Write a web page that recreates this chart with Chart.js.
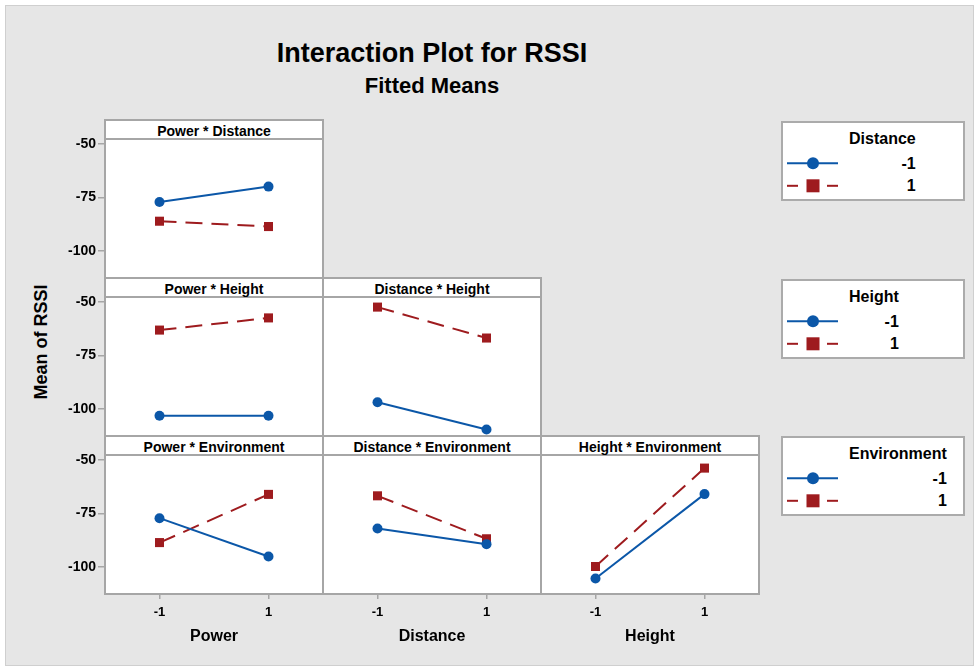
<!DOCTYPE html>
<html>
<head>
<meta charset="utf-8">
<title>Interaction Plot for RSSI</title>
<script src="https://cdn.jsdelivr.net/npm/chart.js@4.4.1/dist/chart.umd.min.js"></script>
<style>
  html, body { margin: 0; padding: 0; background: #fff; }
  #page { position: relative; width: 975px; height: 667px; overflow: hidden;
          font-family: "Liberation Sans", Arial, sans-serif; font-weight: bold; color: #000; }
  #bg { position: absolute; left: 5px; top: 5px; width: 967px; height: 659px;
        background: #e6e6e6; border: 1px solid #cfcfcf; }
  .frame { position: absolute; box-sizing: border-box; background: #fff; border: 2px solid #a6a6a6; }
  .strip { position: absolute; box-sizing: border-box; background: #fff; border: 2px solid #a6a6a6;
           font-size: 14px; line-height: 17px; padding-top: 2px; text-align: center; white-space: nowrap; }
  .legend { position: absolute; box-sizing: border-box; background: #fff; border: 2px solid #ababab; }
  .ltext { position: absolute; font-size: 16px; line-height: 18px; white-space: nowrap; }
  .ltext div.v { text-align: right; }
  canvas { position: absolute; }
  .title { position: absolute; left: 0; width: 864px; text-align: center; white-space: nowrap; }
</style>
</head>
<body>
<div id="page">
  <div id="bg"></div>
  <div class="title" style="top:40px;font-size:27px;line-height:27px;">Interaction Plot for RSSI</div>
  <div class="title" style="top:75px;font-size:22px;line-height:22px;">Fitted Means</div>
  <div style="position:absolute;left:41px;top:342px;transform:translate(-50%,-50%) rotate(-90deg);font-size:18px;line-height:18px;white-space:nowrap;">Mean of RSSI</div>
</div>
<script>
// Factor levels and names
const levels = [-1, 1];
const xFactors = ['Power', 'Distance', 'Height'];
const traceFactors = ['Distance', 'Height', 'Environment'];
const yTicks = [-100, -75, -50];

// Fitted means of RSSI, indexed by the x-factor level (-1, 1);
// "Low" = trace factor at -1, "High" = trace factor at 1
const powerByDistanceLow     = [-77.2, -70.0];
const powerByDistanceHigh    = [-86.2, -88.7];
const powerByHeightLow       = [-103.3, -103.3];
const powerByHeightHigh      = [-63.2, -57.5];
const distanceByHeightLow    = [-96.9, -109.6];
const distanceByHeightHigh   = [-52.6, -67.0];
const powerByEnvLow          = [-77.2, -95.1];
const powerByEnvHigh         = [-88.6, -66.1];
const distanceByEnvLow       = [-82.1, -89.4];
const distanceByEnvHigh      = [-66.9, -86.9];
const heightByEnvLow         = [-105.4, -66.1];
const heightByEnvHigh        = [-99.8, -54.0];

const BLUE = '#0b57a8';
const RED = '#9e1b1e';
const GRAY = '#a6a6a6';
const FONT = '"Liberation Sans", Arial, sans-serif';

// Panel matrix: row = trace factor, column = x factor
const panels = [
  { row: 0, col: 0, title: 'Power * Distance',       low: powerByDistanceLow,  high: powerByDistanceHigh },
  { row: 1, col: 0, title: 'Power * Height',         low: powerByHeightLow,    high: powerByHeightHigh },
  { row: 1, col: 1, title: 'Distance * Height',      low: distanceByHeightLow, high: distanceByHeightHigh },
  { row: 2, col: 0, title: 'Power * Environment',    low: powerByEnvLow,       high: powerByEnvHigh },
  { row: 2, col: 1, title: 'Distance * Environment', low: distanceByEnvLow,    high: distanceByEnvHigh },
  { row: 2, col: 2, title: 'Height * Environment',   low: heightByEnvLow,      high: heightByEnvHigh }
];

// Grid geometry (border centre lines)
const colX = [105, 323, 541, 759];
const stripTop = [120, 278, 436];
const plotTop = [139, 297, 455];
const plotBottom = [278, 436, 594];
const Y_MIN = -112.6, Y_MAX = -47.9;

const page = document.getElementById('page');

function addDiv(cls, style, text) {
  const d = document.createElement('div');
  d.className = cls;
  Object.assign(d.style, style);
  if (text !== undefined) d.textContent = text;
  page.appendChild(d);
  return d;
}

function seriesPoints(vals) {
  return levels.map((x, i) => ({ x: x, y: vals[i] }));
}

panels.forEach(p => {
  const x0 = colX[p.col], x1 = colX[p.col + 1];
  const t = plotTop[p.row], b = plotBottom[p.row], st = stripTop[p.row];
  addDiv('frame', { left: (x0 - 1) + 'px', top: (t - 1) + 'px', width: (x1 - x0 + 2) + 'px', height: (b - t + 2) + 'px' });
  addDiv('strip', { left: (x0 - 1) + 'px', top: (st - 1) + 'px', width: (x1 - x0 + 2) + 'px', height: (t - st + 2) + 'px' }, p.title);
});

panels.forEach(p => {
  const showY = p.col === 0;
  const showX = p.row === 2;
  const padL = showY ? 60 : 10;
  const padB = showX ? 72 : 10;
  const x0 = colX[p.col], x1 = colX[p.col + 1];
  const t = plotTop[p.row], b = plotBottom[p.row];
  const cv = document.createElement('canvas');
  cv.width = (x1 - x0) + padL + 10;
  cv.height = (b - t) + 10 + padB;
  cv.style.left = (x0 - padL) + 'px';
  cv.style.top = (t - 10) + 'px';
  page.appendChild(cv);

  const xScale = {
    type: 'linear', min: -2, max: 2, display: showX,
    afterBuildTicks: s => { s.ticks = levels.map(v => ({ value: v })); },
    grid: { drawOnChartArea: false, drawTicks: true, tickLength: 5, color: GRAY, lineWidth: 1.5 },
    border: { display: false },
    ticks: { color: '#000', padding: 6, font: { family: FONT, size: 13, weight: 'bold' }, callback: v => String(v) },
    title: { display: true, text: xFactors[p.col], color: '#000', padding: { top: 0, bottom: 20 },
             font: { family: FONT, size: 16, weight: 'bold' } }
  };
  if (showX) xScale.afterFit = s => { s.height = padB; };

  const yScale = {
    type: 'linear', min: Y_MIN, max: Y_MAX, display: showY,
    afterBuildTicks: s => { s.ticks = yTicks.map(v => ({ value: v })); },
    grid: { drawOnChartArea: false, drawTicks: true, tickLength: 7, color: GRAY, lineWidth: 1.5 },
    border: { display: false },
    ticks: { color: '#000', padding: 2, font: { family: FONT, size: 14, weight: 'bold' }, callback: v => String(v) }
  };
  if (showY) yScale.afterFit = s => { s.width = padL; };

  new Chart(cv, {
    type: 'line',
    data: {
      datasets: [
        { label: traceFactors[p.row] + ' -1', data: seriesPoints(p.low),
          borderColor: BLUE, backgroundColor: BLUE, borderWidth: 2, tension: 0,
          pointStyle: 'circle', pointRadius: 5, pointBorderWidth: 0, clip: false },
        { label: traceFactors[p.row] + ' 1', data: seriesPoints(p.high),
          borderColor: RED, backgroundColor: RED, borderWidth: 2, borderDash: [17, 9], tension: 0,
          pointStyle: 'rect', pointRadius: 6.4, pointBorderWidth: 0, clip: false }
      ]
    },
    options: {
      responsive: false, animation: false, events: [],
      devicePixelRatio: 1,
      layout: { padding: { left: showY ? 0 : 10, top: 10, right: 10, bottom: showX ? 0 : 10 } },
      plugins: { legend: { display: false }, tooltip: { enabled: false }, title: { display: false } },
      scales: { x: xScale, y: yScale }
    }
  });
});

// Legend boxes, one per trace factor
const legendTops = [121, 279, 436];
traceFactors.forEach((name, i) => {
  const top = legendTops[i];
  addDiv('legend', { left: '781px', top: top + 'px', width: '184px', height: '80px' });
  const yBlue = top + 42.2, yRed = top + 64.8;
  const svgNS = 'http://www.w3.org/2000/svg';
  const svg = document.createElementNS(svgNS, 'svg');
  svg.setAttribute('width', '60'); svg.setAttribute('height', '50');
  Object.assign(svg.style, { position: 'absolute', left: '783px', top: (top + 30) + 'px' });
  const oy = top + 30;
  svg.innerHTML =
    `<line x1="4" x2="55" y1="${yBlue - oy}" y2="${yBlue - oy}" stroke="${BLUE}" stroke-width="2"/>` +
    `<circle cx="30" cy="${yBlue - oy}" r="6" fill="${BLUE}"/>` +
    `<line x1="4" x2="15" y1="${yRed - oy}" y2="${yRed - oy}" stroke="${RED}" stroke-width="2"/>` +
    `<line x1="44" x2="55" y1="${yRed - oy}" y2="${yRed - oy}" stroke="${RED}" stroke-width="2"/>` +
    `<rect x="23.5" y="${yRed - oy - 6.5}" width="13" height="13" fill="${RED}"/>`;
  page.appendChild(svg);
  const box = addDiv('ltext', { left: '849px', top: (top + 8.5) + 'px' });
  const tt = document.createElement('div'); tt.textContent = name; box.appendChild(tt);
  levels.forEach((lv, k) => {
    const v = document.createElement('div');
    v.className = 'v';
    v.style.marginTop = k === 0 ? '7px' : '4.5px';
    v.textContent = String(lv);
    box.appendChild(v);
  });
});
</script>
</body>
</html>
